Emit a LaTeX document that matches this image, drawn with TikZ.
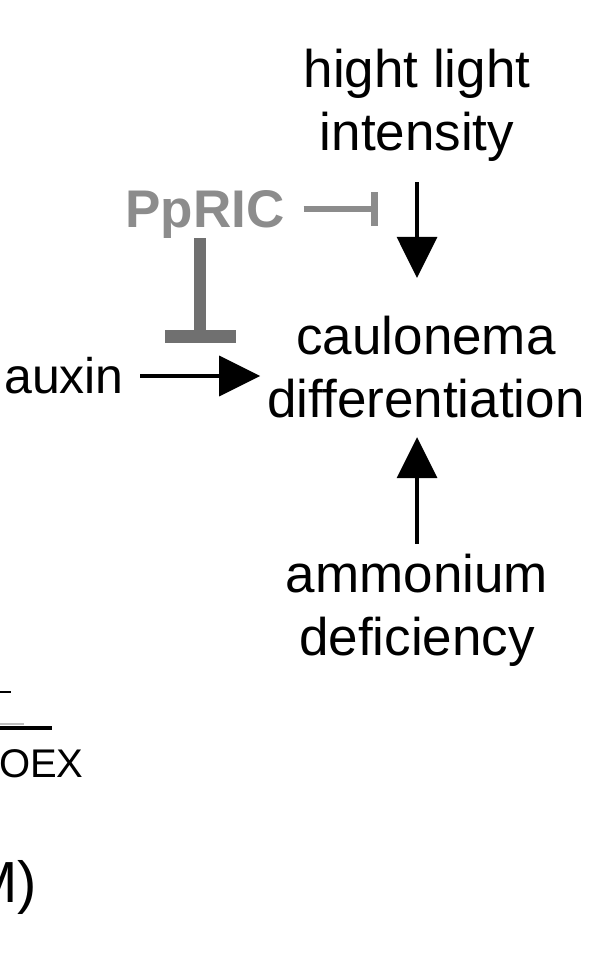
\documentclass[tikz,border=0pt]{standalone}
\usepackage{fontspec}
\setmainfont{Liberation Sans}
\usetikzlibrary{arrows.meta}
\definecolor{ricgray}{HTML}{8C8C8C}
\definecolor{ricdark}{HTML}{707070}
\tikzset{
  lbl/.style={align=center,inner sep=0pt,font=\fontsize{53}{63}\selectfont},
  act/.style={line width=3.5pt,-{Triangle[length=41pt,width=40pt]}},
  inhgray/.style={line width=6pt,ricgray,-{Bar[width=34pt,line width=7pt]}},
  inhdark/.style={line width=12pt,ricdark,-{Bar[width=71pt,line width=13pt]}}
}
\begin{document}
\begin{tikzpicture}[x=1pt,y=-1pt]
\useasboundingbox (0,0) rectangle (590,959);
% scheme
\node[lbl] (light) at (417,105) {hight light\\intensity};
\node[lbl] (caulo) at (426,367) {caulonema\\differentiation};
\node[lbl] (ammon) at (417,610) {ammonium\\deficiency};
\node[lbl,font=\fontsize{50}{60}\selectfont,anchor=east] (auxin) at (124,376) {auxin};
\node[lbl,font=\fontsize{53}{63}\selectfont\bfseries,text=ricgray] (ppric) at (205,214) {PpRIC};
\coordinate (lightinh) at (378,209);
\coordinate (auxinh) at (200,343);
\draw[act,shorten <=16pt,shorten >=7pt] (auxin.east) -- (auxin.east -| caulo.west);
\draw[act,shorten <=21pt,shorten >=38pt] (light.south) -- (light.south |- caulo.north);
\draw[act,shorten <=10pt,shorten >=19pt] (ammon.north) -- (ammon.north |- caulo.south);
\draw[inhgray] ([xshift=19pt]lightinh -| ppric.east) -- (lightinh);
\draw[inhdark] (auxinh |- ppric.south) -- (auxinh);
% pieces of the neighbouring panel
\draw[line width=2pt] (0,692) -- (11,692);
\draw[line width=2pt,black!25] (0,724) -- (24,724);
\draw[line width=3.5pt] (0,728) -- (52,728);
\node[anchor=base west,inner sep=0pt,font=\fontsize{40}{48}\selectfont] (oex) at (-1,777) {OEX};
\node[anchor=base west,inner sep=0pt,font=\fontsize{58}{70}\selectfont] (molar) at (-31,902) {M)};
\end{tikzpicture}
\end{document}
